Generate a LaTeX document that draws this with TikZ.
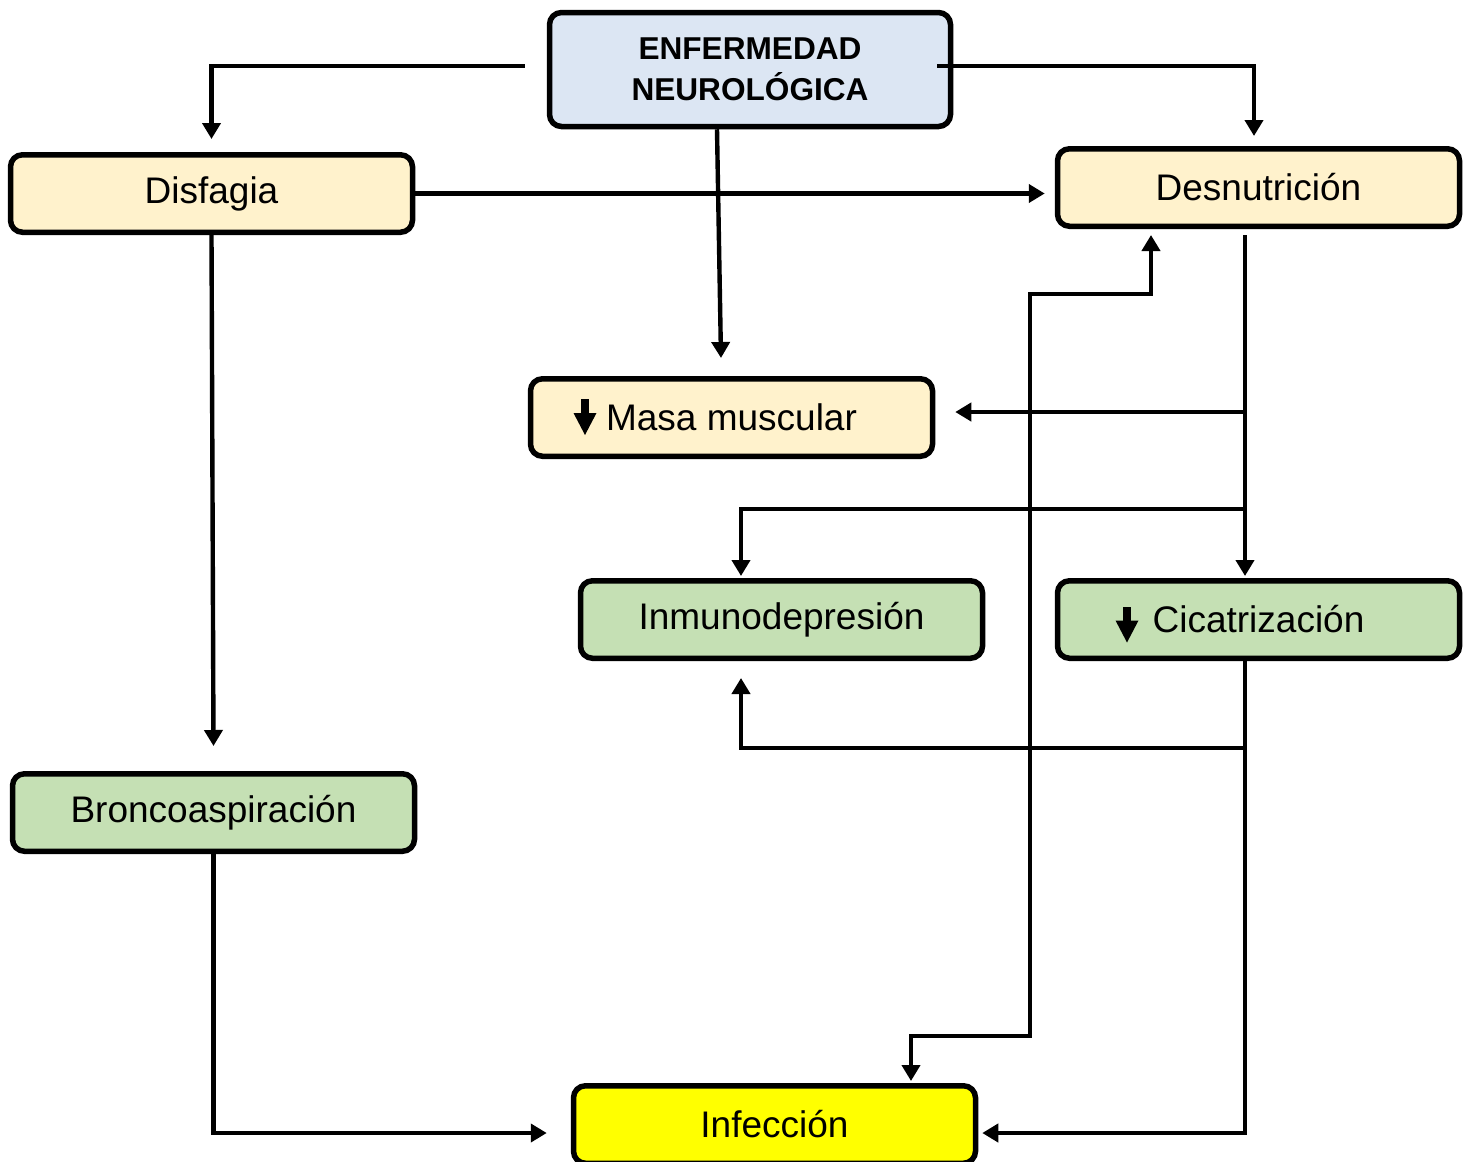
\documentclass[tikz,border=0pt]{standalone}
\usepackage{fontspec}
\setmainfont{Liberation Sans}
\usetikzlibrary{calc,arrows.meta}
\definecolor{topblue}{RGB}{220,230,243}
\definecolor{beige}{RGB}{255,242,204}
\definecolor{lgreen}{RGB}{197,224,180}
\definecolor{yell}{RGB}{255,255,0}
\tikzset{
  box/.style={draw=black, line width=2.75pt, rounded corners=6pt, minimum width=201pt, minimum height=38.75pt, inner sep=0pt, font=\fontsize{18.5}{22}\selectfont},
  conn/.style={line width=2.2pt, -{Triangle[length=8pt,width=9pt]}},
  conn2/.style={line width=2.2pt, {Triangle[length=8pt,width=9pt]}-{Triangle[length=8pt,width=9pt]}},
  downarr/.pic={\fill (-4,-17.5) rectangle (4,-2); \fill (-11.5,-3.5) -- (11.5,-3.5) -- (0,18.5) -- cycle;}
}
\begin{document}
\begin{tikzpicture}[x=0.5pt,y=-0.5pt]
\useasboundingbox (0,0) rectangle (1473,1162);
% nodes
\node[box, fill=topblue, minimum width=200.5pt, minimum height=57pt, align=center, font=\bfseries\fontsize{15.8}{20.5}\selectfont] (top) at (750,69.5) {ENFERMEDAD\\NEUROLÓGICA};
\node[box, fill=beige] (dis) at (211.5,193.5) {Disfagia};
\node[box, fill=beige] (des) at (1258.5,187.5) {Desnutrición};
\node[box, fill=beige] (masa) at (731.5,417.5) {Masa muscular};
\node[box, fill=lgreen] (inm) at (781.5,619.5) {Inmunodepresión};
\node[box, fill=lgreen] (cica) at (1258.5,619.5) {Cicatrización};
\node[box, fill=lgreen] (bron) at (213.5,812.5) {Broncoaspiración};
\node[box, fill=yell] (inf) at (774.5,1124.5) {Infección};
\pic at ($(masa.center)+(-146.5,-1)$) {downarr};
\pic at ($(cica.center)+(-131.5,4.5)$) {downarr};
% connectors
\draw[conn] ($(top.west)+(-22,-3.5)$) -| ($(dis.north)+(0,-13)$);
\draw[conn] ($(top.east)+(-16,-3.5)$) -| ($(des.north)+(-4.5,-10)$);
\draw[conn] ($(top.south)+(-33,0)$) -- ($(masa.north)+(-10.5,-18)$);
\draw[conn] (dis.east) -- ($(dis.east -| des.west)+(-10,0)$);
\draw[conn] (dis.south) -- ($(bron.north)+(0,-25)$);
% helper levels
\coordinate (tr) at ($(des.south)+(-13.5,0)$);
\coordinate (y1) at (0,412);
\coordinate (y2) at (0,509);
\coordinate (y3) at (0,748);
\coordinate (j1) at (tr |- y1);
\coordinate (j2) at (tr |- y2);
\coordinate (j3) at (tr |- y3);
% Desnutricion trunk
\draw[conn] ($(des.south)+(-13.5,6)$) -- ($(cica.north)+(-13.5,-2)$);
\draw[conn] (j1) -- ($(masa.east)+(20,-5.5)$);
\draw[conn] (j2) -| ($(inm.north)+(-40.5,-2)$);
% Cicatrizacion
\draw[conn] ($(cica.south)+(-13.5,0)$) |- ($(inf.east)+(4,8.5)$);
\draw[conn] (j3) -| ($(inm.south)+(-40.5,17)$);
% Broncoaspiracion
\draw[conn] (bron.south) |- ($(inf.west)+(-24,8.5)$);
% Infeccion <-> Desnutricion
\coordinate (b1) at (1030,1036);
\draw[conn2] ($(des.south)+(-107.5,6)$) -- ++(0,59) -| (b1) -| ($(inf.north)+(136.5,-2)$);
\end{tikzpicture}
\end{document}
